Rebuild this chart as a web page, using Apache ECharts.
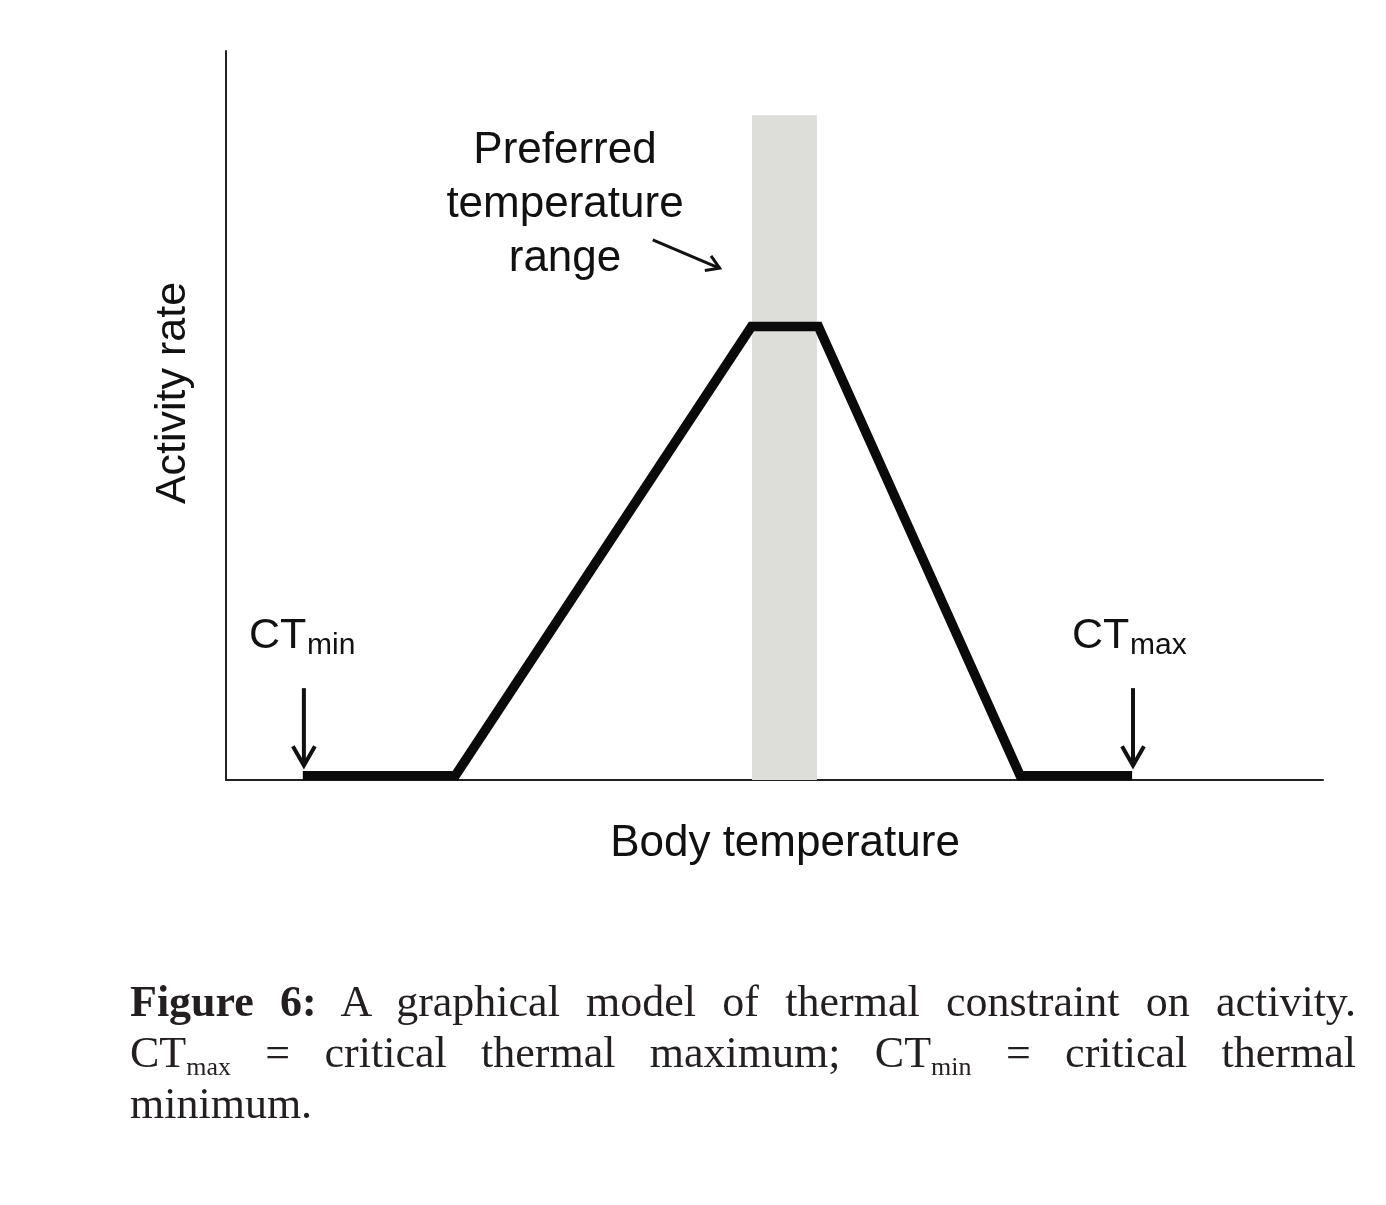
<!DOCTYPE html>
<html>
<head>
<meta charset="utf-8">
<script src="https://cdn.jsdelivr.net/npm/echarts@6/dist/echarts.min.js"></script>
<style>
  html, body { margin: 0; padding: 0; background: #fff; }
  #chart { position: absolute; left: 0; top: 0; width: 1386px; height: 1205px; }
  #caption {
    position: absolute; left: 130px; top: 976px; width: 1226px;
    font-family: "Liberation Serif", "DejaVu Serif", serif;
    font-size: 44px; line-height: 51px; color: #231f20;
  }
  #caption .j2 { text-align: justify; text-align-last: justify; }
  #caption sub { font-size: 26px; vertical-align: -8px; line-height: 0; }
</style>
</head>
<body>
<div id="chart"></div>
<div id="caption">
  <div class="j2"><b>Figure 6:</b> A graphical model of thermal constraint on activity.</div>
  <div class="j2">CT<sub>max</sub> = critical thermal maximum; CT<sub>min</sub> = critical thermal</div>
  <div>minimum.</div>
</div>
<script>
// Activity-rate curve (x = body temperature, y = activity rate), arbitrary units 0-100
const curveX = [7.0, 20.9, 47.9, 54.0, 72.4, 82.6];
const curveY = [0.6, 0.6, 62.2, 62.2, 0.6, 0.6];
// Preferred temperature range band
const bandX = [47.95, 53.87];
const bandTop = 91.2;
// Arrows: [x1, y1, x2, y2] (tail -> tip)
const ctArrows = [[7.1, 12.6, 7.1, 2.0], [82.68, 12.6, 82.68, 2.0]];
const prefArrow = [[38.9, 74.1, 45.0, 70.2]];
// Text
const xAxisName = 'Body temperature';
const yAxisName = 'Activity rate';
const prefLabel = 'Preferred\ntemperature\nrange';

const chart = echarts.init(document.getElementById('chart'), null, { renderer: 'canvas' });
const ink = '#111111';
const sans = 'Liberation Sans, Arial, sans-serif';

function arrowRender(width, headLen, angleDeg) {
  return function (params, api) {
    const p1 = api.coord([api.value(0), api.value(1)]);
    const p2 = api.coord([api.value(2), api.value(3)]);
    const ang = Math.atan2(p2[1] - p1[1], p2[0] - p1[0]);
    const a = angleDeg * Math.PI / 180;
    const h1 = [p2[0] - headLen * Math.cos(ang - a), p2[1] - headLen * Math.sin(ang - a)];
    const h2 = [p2[0] - headLen * Math.cos(ang + a), p2[1] - headLen * Math.sin(ang + a)];
    const tipBack = [p2[0] - width * Math.cos(ang), p2[1] - width * Math.sin(ang)];
    return {
      type: 'group',
      children: [
        { type: 'polyline', shape: { points: [p1, tipBack] },
          style: { stroke: ink, lineWidth: width, fill: null, lineCap: 'butt' } },
        { type: 'polyline', shape: { points: [h1, p2, h2] },
          style: { stroke: ink, lineWidth: width, fill: null, lineJoin: 'miter', lineCap: 'butt' } }
      ]
    };
  };
}

const option = {
  animation: false,
  backgroundColor: '#ffffff',
  grid: { left: 226, right: 63, top: 51, bottom: 425, containLabel: false },
  xAxis: {
    type: 'value', min: 0, max: 100,
    axisLine: { show: true, onZero: false, lineStyle: { color: '#222', width: 2 } },
    axisTick: { show: false }, axisLabel: { show: false }, splitLine: { show: false },
    name: xAxisName, nameLocation: 'middle', nameGap: 42,
    nameTextStyle: { fontSize: 44, color: ink, fontFamily: sans, padding: [0, 0, 0, 21] }
  },
  yAxis: {
    type: 'value', min: 0, max: 100,
    axisLine: { show: true, onZero: false, lineStyle: { color: '#222', width: 2 } },
    axisTick: { show: false }, axisLabel: { show: false }, splitLine: { show: false },
    name: yAxisName, nameLocation: 'middle', nameGap: 31,
    nameTextStyle: { fontSize: 43, color: ink, fontFamily: sans, padding: [0, 0, 0, 45] }
  },
  series: [
    {
      type: 'line',
      data: curveX.map((x, i) => [x, curveY[i]]),
      symbol: 'none',
      lineStyle: { color: '#0a0a0a', width: 9.5, join: 'miter', cap: 'butt' },
      z: 3,
      markArea: {
        silent: true,
        itemStyle: { color: '#dddeda' },
        data: [[{ xAxis: bandX[0], yAxis: 0 }, { xAxis: bandX[1], yAxis: bandTop }]]
      }
    },
    {
      type: 'custom', renderItem: arrowRender(4, 22, 30), data: ctArrows, z: 4,
      encode: { x: [0, 2], y: [1, 3] }
    },
    {
      type: 'custom', renderItem: arrowRender(3, 15, 32), data: prefArrow, z: 4,
      encode: { x: [0, 2], y: [1, 3] }
    }
  ],
  graphic: [
    { type: 'text', x: 565, y: 205, z: 10,
      style: { text: prefLabel, fontSize: 44, lineHeight: 54, fontFamily: sans, fill: ink,
               align: 'center', verticalAlign: 'middle' } },
    { type: 'text', x: 249, y: 636, z: 10,
      style: { text: 'CT', fontSize: 43, fontFamily: sans, fill: ink, align: 'left', verticalAlign: 'middle' } },
    { type: 'text', x: 307, y: 646, z: 10,
      style: { text: 'min', fontSize: 30, fontFamily: sans, fill: ink, align: 'left', verticalAlign: 'middle' } },
    { type: 'text', x: 1072, y: 636, z: 10,
      style: { text: 'CT', fontSize: 43, fontFamily: sans, fill: ink, align: 'left', verticalAlign: 'middle' } },
    { type: 'text', x: 1130, y: 646, z: 10,
      style: { text: 'max', fontSize: 30, fontFamily: sans, fill: ink, align: 'left', verticalAlign: 'middle' } }
  ]
};
chart.setOption(option);
</script>
</body>
</html>
